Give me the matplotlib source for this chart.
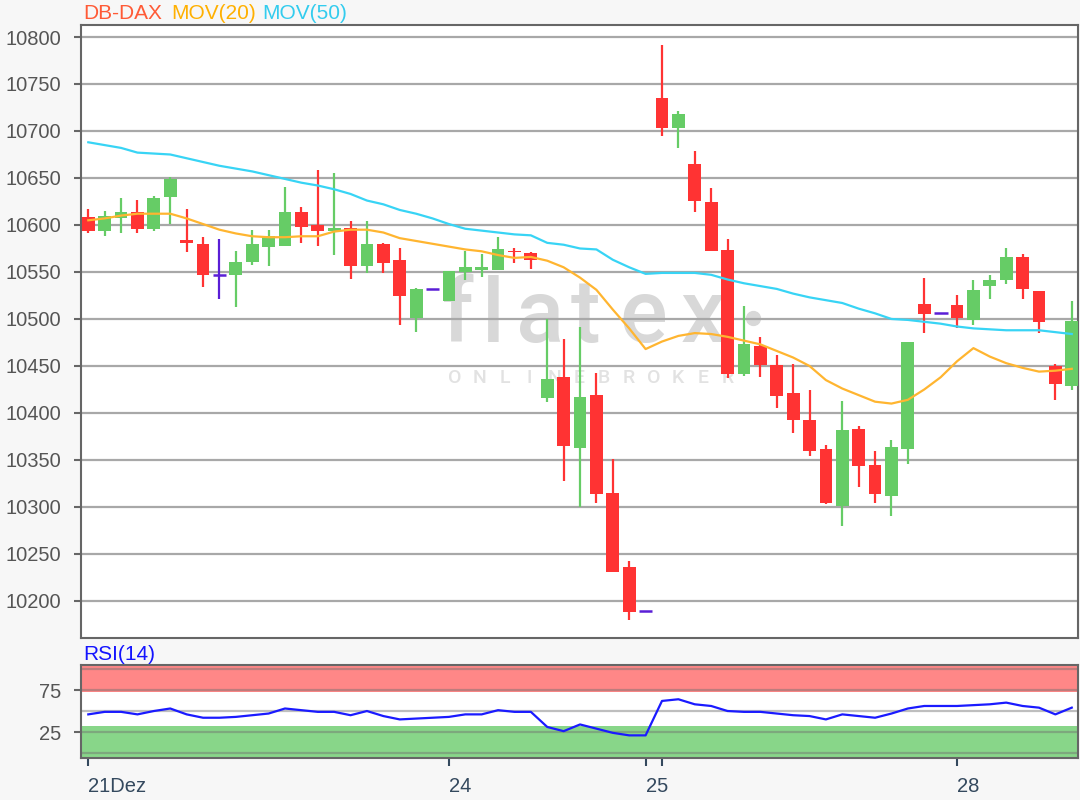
import matplotlib
matplotlib.use('Agg')
import matplotlib.pyplot as plt

# ---------------- data ----------------
opens = [10608, 10594, 10607, 10614, 10596, 10630, 10584, 10580, 10547, 10547,
         10561, 10577, 10578, 10614, 10600, 10594, 10597, 10556, 10580, 10563,
         10501, 10532, 10519, 10550, 10552, 10552, 10572, 10570, 10416, 10438,
         10363, 10419, 10315, 10236, 10189, 10735, 10703, 10665, 10624, 10573,
         10441, 10471, 10451, 10421, 10392, 10362, 10301, 10383, 10345, 10312,
         10362, 10516, 10506, 10515, 10499, 10535, 10541, 10566, 10530, 10450,
         10429]
highs = [10617, 10615, 10629, 10627, 10631, 10651, 10617, 10587, 10585, 10572,
         10595, 10595, 10640, 10619, 10659, 10655, 10604, 10604, 10581, 10576,
         10533, 10532, 10551, 10572, 10569, 10587, 10576, 10571, 10500, 10479,
         10491, 10443, 10351, 10243, 10189, 10792, 10721, 10679, 10639, 10585,
         10514, 10481, 10462, 10452, 10424, 10366, 10413, 10386, 10360, 10371,
         10476, 10544, 10506, 10526, 10542, 10547, 10576, 10569, 10530, 10452,
         10519]
lows = [10592, 10588, 10592, 10592, 10594, 10601, 10571, 10534, 10521, 10513,
        10557, 10556, 10578, 10581, 10578, 10568, 10543, 10549, 10549, 10494,
        10486, 10532, 10519, 10541, 10545, 10552, 10560, 10553, 10412, 10328,
        10300, 10304, 10231, 10180, 10189, 10695, 10682, 10614, 10572, 10437,
        10439, 10438, 10405, 10379, 10354, 10303, 10280, 10321, 10304, 10290,
        10346, 10485, 10506, 10490, 10494, 10521, 10537, 10521, 10485, 10414,
        10424]
closes = [10594, 10610, 10614, 10596, 10629, 10649, 10581, 10547, 10547, 10561,
          10580, 10588, 10614, 10598, 10594, 10597, 10556, 10580, 10560, 10524,
          10532, 10532, 10551, 10555, 10555, 10574, 10571, 10563, 10436, 10365,
          10417, 10314, 10231, 10188, 10189, 10703, 10718, 10625, 10572, 10441,
          10473, 10451, 10418, 10392, 10360, 10304, 10382, 10344, 10314, 10364,
          10476, 10505, 10506, 10501, 10531, 10542, 10566, 10532, 10497, 10431,
          10498]
mov20 = [10605, 10607, 10610, 10612, 10612, 10612, 10607, 10601, 10595, 10591,
         10588, 10587, 10587, 10588, 10588, 10593, 10595, 10595, 10592, 10586,
         10583, 10580, 10577, 10574, 10572, 10568, 10565, 10566, 10562, 10555,
         10544, 10531, 10510, 10490, 10468, 10476, 10482, 10485, 10484, 10481,
         10477, 10473, 10466, 10459, 10450, 10435, 10426, 10419, 10412, 10410,
         10414, 10425, 10438, 10455, 10469, 10460, 10453, 10448, 10444, 10445,
         10447]
mov50 = [10688, 10685, 10682, 10677, 10676, 10675, 10671, 10667, 10663, 10660,
         10657, 10653, 10649, 10645, 10642, 10638, 10633, 10626, 10622, 10616,
         10612, 10607, 10601, 10596, 10594, 10592, 10590, 10589, 10581, 10579,
         10575, 10574, 10563, 10555, 10548, 10549, 10549, 10549, 10547, 10542,
         10538, 10535, 10532, 10527, 10523, 10520, 10517, 10511, 10506, 10500,
         10499, 10497, 10495, 10492, 10490, 10489, 10488, 10488, 10488, 10486,
         10484]
rsi14 = [46, 49, 49, 46, 50, 53, 46, 42, 42, 43,
         45, 47, 53, 51, 49, 49, 45, 50, 44, 40,
         41, 42, 43, 46, 46, 51, 49, 49, 31, 26,
         34, 29, 24, 21, 21, 62, 64, 58, 56, 50,
         49, 49, 47, 45, 44, 40, 46, 44, 42, 47,
         53, 56, 56, 56, 57, 58, 60, 56, 54, 46,
         54]
price_ticks = [10200, 10250, 10300, 10350, 10400, 10450, 10500, 10550,
               10600, 10650, 10700, 10750, 10800]
rsi_ticks = [25, 75]
rsi_grid = [0, 25, 50, 75, 100]
day_tick_pos = [0, 22, 34, 35, 53]
day_tick_labels = ['21Dez', '24', '25', '', '28']

# ---------------- style ----------------
W, H = 1080, 800
FONT = 'Liberation Sans'
plt.rcParams['font.family'] = [FONT, 'DejaVu Sans']
UP, DOWN, FLAT = '#66cc66', '#ff3333', '#5a1ed6'
C20, C50 = '#ffb530', '#38d4f5'
GRIDC = '#a8a8a8'
SPINE = '#666666'

fig = plt.figure(figsize=(W / 100, H / 100), dpi=100, facecolor='#f7f7f7')


def frac(x0, y0, x1, y1):
    return [x0 / W, 1 - y1 / H, (x1 - x0) / W, (y1 - y0) / H]


ax = fig.add_axes(frac(81, 24.5, 1078, 638))
rax = fig.add_axes(frac(81, 665, 1078, 758))
XLIM = (-0.445, 60.38)

# ---------------- main panel ----------------
ax.set_facecolor('white')
ax.set_xlim(*XLIM)
ax.set_ylim(10160.6, 10813.3)
ax.set_yticks(price_ticks)
ax.set_yticklabels([str(v) for v in price_ticks])
ax.set_xticks([])
ax.set_axisbelow(True)
ax.yaxis.grid(True, color=GRIDC, lw=1.6)
ax.tick_params(axis='y', labelsize=14.5, labelcolor='#555555', color=SPINE,
               length=5, width=1.5, pad=9)
for s in ax.spines.values():
    s.set_color(SPINE)
    s.set_linewidth(1.5)

# watermark
wm = '#d8d8d8'
for ch, cx in zip('flatex', [458, 493, 540, 585, 643, 703]):
    ax.text(cx / W, 1 - 342 / H, ch, transform=fig.transFigure, ha='center',
            va='baseline', fontsize=64, color=wm, family='Roboto',
            fontweight='medium', zorder=0.2)
ax.plot([753 / W], [1 - 318 / H], 'o', ms=10, color=wm,
        transform=fig.transFigure, zorder=0.2, clip_on=False)
for k, ch in enumerate('ONLINEBROKER'):
    ax.text((455 + 24.8 * k) / W, 1 - 378 / H, ch, transform=fig.transFigure,
            ha='center', va='center', fontsize=14, color='#e2e2e2',
            family='Roboto', fontweight='medium', zorder=0.2)

# candles
xs = list(range(len(opens)))
for i in xs:
    o, h, l, c = opens[i], highs[i], lows[i], closes[i]
    col = UP if c > o else (DOWN if c < o else FLAT)
    if h > l:
        ax.vlines(i, l, h, color=col, lw=1.6, zorder=3)
    if c == o:
        ax.hlines(o, i - 0.42, i + 0.42, color=col, lw=1.8, zorder=4)
    else:
        ax.bar(i, abs(c - o), bottom=min(o, c), width=0.78, color=col,
               edgecolor='none', zorder=4)

ax.plot(xs, mov20, color=C20, lw=1.6, zorder=5, solid_joinstyle='round')
ax.plot(xs, mov50, color=C50, lw=1.6, zorder=5, solid_joinstyle='round')

# title
ty = 1 - 13.5 / H
fig.text(83 / W, ty, 'DB-DAX', color='#ff5a36', fontsize=15, va='center')
fig.text(171 / W, ty, 'MOV(20)', color='#ffb000', fontsize=15, va='center')
fig.text(262 / W, ty, 'MOV(50)', color='#33ccee', fontsize=15, va='center')

# ---------------- RSI panel ----------------
rax.set_facecolor('white')
rax.set_xlim(*XLIM)
rax.set_ylim(-5.95, 104.8)
rax.axhspan(73, 104.8, color='#ff8787', lw=0, zorder=0.3)
rax.axhspan(-5.95, 32, color='#88d689', lw=0, zorder=0.3)
for v in rsi_grid:
    rax.axhline(v, color='#707070', alpha=0.45, lw=1.6, zorder=0.6)
rax.plot(xs, rsi14, color='#1a1aff', lw=1.6, zorder=3)
rax.set_yticks(rsi_ticks)
rax.set_yticklabels([str(v) for v in rsi_ticks])
rax.tick_params(axis='y', labelsize=14.5, labelcolor='#555555', color=SPINE,
                length=5, width=1.5, pad=9)
rax.set_xticks(day_tick_pos)
rax.set_xticklabels(day_tick_labels)
for lab in rax.get_xticklabels():
    lab.set_ha('left')
rax.tick_params(axis='x', labelsize=14.5, labelcolor='#34495e',
                color='#34495e', length=6, width=1.5, pad=8)
for s in rax.spines.values():
    s.set_color(SPINE)
    s.set_linewidth(1.5)
fig.text(83 / W, 1 - 654 / H, 'RSI(14)', color='#1414ff', fontsize=15,
         va='center')

fig.savefig('out.png', dpi=100, facecolor=fig.get_facecolor())
